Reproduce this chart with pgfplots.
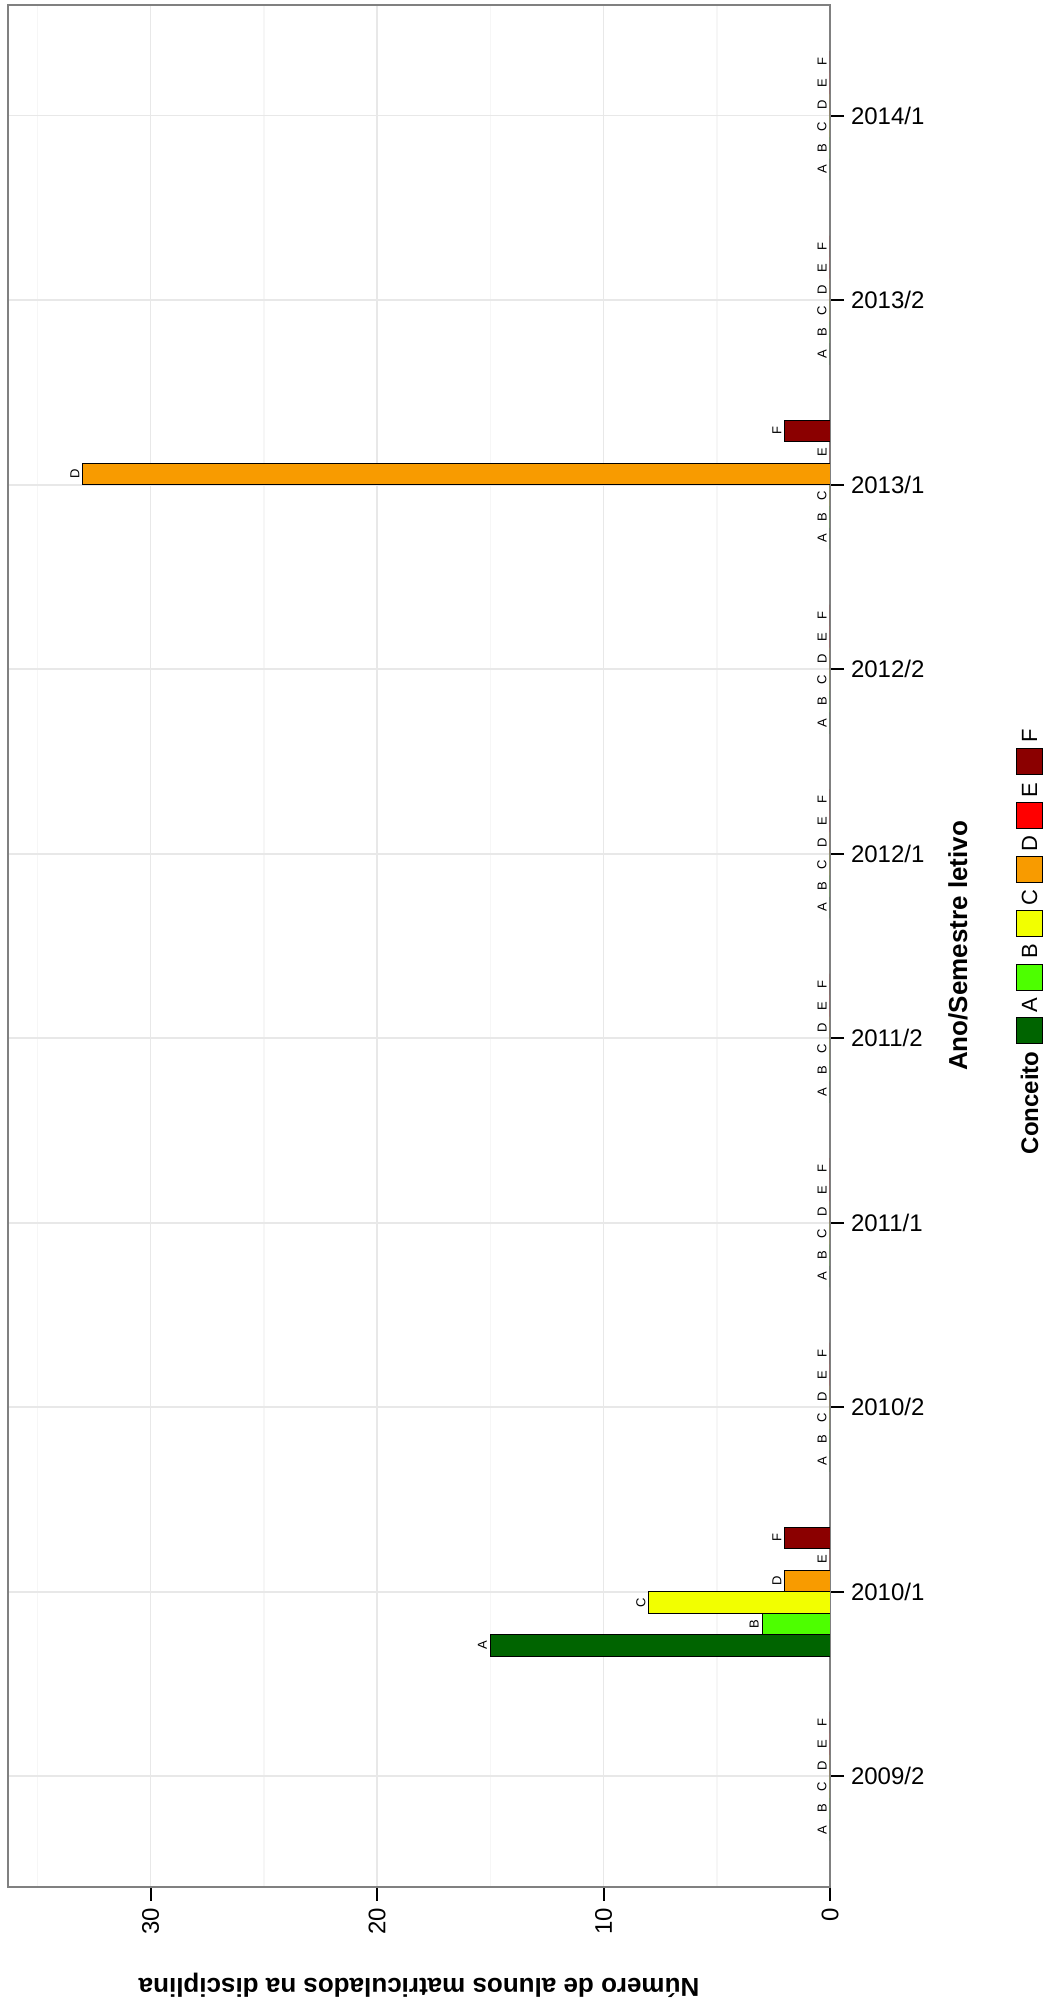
\documentclass[border=0pt]{standalone}
\usepackage{fontspec}
\setmainfont{Liberation Sans}
\usepackage{pgfplots}
\pgfplotsset{compat=1.18}

\definecolor{cA}{HTML}{006400}
\definecolor{cB}{HTML}{4DFF00}
\definecolor{cC}{HTML}{F2FF00}
\definecolor{cD}{HTML}{F89B00}
\definecolor{cE}{HTML}{FF0000}
\definecolor{cF}{HTML}{8B0000}
\newcommand{\fs}[1]{\fontsize{#1bp}{#1bp}\selectfont}

\begin{document}
\begin{tikzpicture}
\useasboundingbox (0,0) rectangle (523.5bp,1004bp);
\begin{axis}[
  at={(4bp,60.5bp)}, anchor=south west,
  scale only axis, width=411bp, height=941bp,
  xbar, bar width=0.11667,
  x dir=reverse,
  xmin=0, xmax=36.3, ymin=0.4, ymax=10.6,
  xtick={0,10,20,30}, minor xtick={5,15,25,35},
  ytick={1,...,10},
  yticklabels={2009/2,2010/1,2010/2,2011/1,2011/2,2012/1,2012/2,2013/1,2013/2,2014/1},
  xtick pos=left, ytick pos=right, yticklabel pos=right,
  tick align=outside, major tick length=7bp, minor tick length=0pt,
  tick style={black, line width=1bp},
  grid=both,
  major grid style={draw=gray!18, line width=0.8bp},
  minor grid style={draw=gray!7, line width=0.8bp},
  axis line style={draw=black!50, line width=1bp},
  /pgf/number format/assume math mode=true,
  ticklabel style={font=\fs{12}, text=black},
  xticklabel style={rotate=90, anchor=east},
  yticklabel style={anchor=west},
  xlabel={\textbf{Número de alunos matriculados na disciplina}},
  ylabel={\textbf{Ano/Semestre letivo}},
  every axis x label/.style={at={(axis description cs:0.5,0)}, yshift=-49bp, rotate=180, anchor=center, font=\fs{13}},
  every axis y label/.style={at={(axis description cs:1,0.5)}, xshift=64bp, rotate=90, anchor=center, font=\fs{13}},
  nodes near coords align=vertical,
  every node near coord/.append style={rotate=90, font=\fs{6.5}, inner sep=1.5bp, text=black},
]
\addplot[fill=cA, draw=black, line width=0.4bp, bar shift=-0.29167, nodes near coords=A]
  coordinates {(0,1) (15,2) (0,3) (0,4) (0,5) (0,6) (0,7) (0,8) (0,9) (0,10)};
\addplot[fill=cB, draw=black, line width=0.4bp, bar shift=-0.175, nodes near coords=B]
  coordinates {(0,1) (3,2) (0,3) (0,4) (0,5) (0,6) (0,7) (0,8) (0,9) (0,10)};
\addplot[fill=cC, draw=black, line width=0.4bp, bar shift=-0.05833, nodes near coords=C]
  coordinates {(0,1) (8,2) (0,3) (0,4) (0,5) (0,6) (0,7) (0,8) (0,9) (0,10)};
\addplot[fill=cD, draw=black, line width=0.4bp, bar shift=0.05833, nodes near coords=D]
  coordinates {(0,1) (2,2) (0,3) (0,4) (0,5) (0,6) (0,7) (33,8) (0,9) (0,10)};
\addplot[fill=cE, draw=black, line width=0.4bp, bar shift=0.175, nodes near coords=E]
  coordinates {(0,1) (0,2) (0,3) (0,4) (0,5) (0,6) (0,7) (0,8) (0,9) (0,10)};
\addplot[fill=cF, draw=black, line width=0.4bp, bar shift=0.29167, nodes near coords=F]
  coordinates {(0,1) (2,2) (0,3) (0,4) (0,5) (0,6) (0,7) (2,8) (0,9) (0,10)};
\end{axis}
% legend (ggplot's horizontal legend, turned with the page)
\node[rotate=90, font=\bfseries\fs{12}, inner sep=0pt] at (514.8bp,452.6bp) {Conceito};
\foreach \lab/\col [count=\i from 0] in {A/cA,B/cB,C/cC,D/cD,E/cE,F/cF} {
  \pgfmathsetmacro{\ky}{488.6+26.9*\i}
  \pgfmathsetmacro{\ya}{\ky-6.5}
  \pgfmathsetmacro{\yb}{\ky+6.5}
  \pgfmathsetmacro{\yl}{\ky+12.8}
  \filldraw[fill=\col, draw=black, line width=0.4bp] (508.3bp,\ya bp) rectangle (521.3bp,\yb bp);
  \node[rotate=90, font=\fs{11}, inner sep=0pt] at (514.8bp,\yl bp) {\lab};
}
\end{tikzpicture}
\end{document}
